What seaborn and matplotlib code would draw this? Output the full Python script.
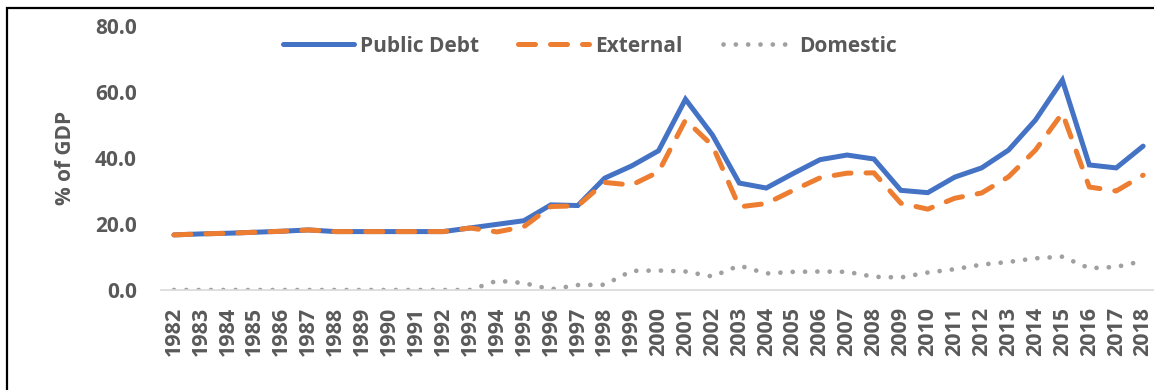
import matplotlib
matplotlib.use("Agg")
import matplotlib.pyplot as plt
from matplotlib.patches import Rectangle
import seaborn as sns

years = list(range(1982, 2019))
public_debt = [16.7, 17.0, 17.2, 17.5, 17.8, 18.2, 17.7, 17.7, 17.7, 17.7, 17.7, 18.8,
               19.9, 21.0, 25.8, 25.6, 33.9, 37.6, 42.2, 57.8, 47.0, 32.4, 30.9, 35.3,
               39.5, 40.9, 39.7, 30.2, 29.5, 34.2, 37.0, 42.4, 51.5, 63.6, 37.9, 37.0, 43.6]
external = [16.7, 17.0, 17.2, 17.5, 17.8, 18.2, 17.7, 17.7, 17.7, 17.7, 17.7, 18.8,
            17.6, 19.2, 25.3, 25.5, 32.6, 31.8, 35.8, 51.5, 43.8, 25.2, 26.2, 30.2,
            34.0, 35.4, 35.5, 26.3, 24.5, 27.8, 29.4, 34.3, 42.4, 53.6, 31.2, 30.0, 34.8]
domestic = [0.0, 0.0, 0.0, 0.0, 0.0, 0.0, 0.0, 0.0, 0.0, 0.0, 0.0, 0.0,
            2.8, 2.1, 0.2, 1.5, 1.6, 5.8, 5.9, 5.6, 4.1, 7.4, 5.0, 5.5,
            5.6, 5.5, 4.0, 3.8, 5.3, 6.3, 7.7, 8.5, 9.6, 10.1, 6.6, 7.0, 8.8]
y_ticks = [0, 20, 40, 60, 80]
series_names = ["Public Debt", "External", "Domestic"]

sns.set_theme(style="white")
plt.rcParams['font.family'] = ['Open Sans', 'DejaVu Sans']
text_color = "#595959"

fig = plt.figure(figsize=(11.54, 3.9), dpi=100)
ax = fig.add_axes([160.5 / 1154, 1 - 290 / 390, (1156.6 - 160.5) / 1154, 264 / 390])

sns.lineplot(x=years, y=public_debt, ax=ax, color="#4472C4", lw=3.6,
             solid_capstyle="round", solid_joinstyle="miter", label=series_names[0])
sns.lineplot(x=years, y=external, ax=ax, color="#ED7D31", lw=3.6,
             linestyle=(0, (3.4, 3.0)), dash_capstyle="round", label=series_names[1])
sns.lineplot(x=years, y=domestic, ax=ax, color="#A0A0A0", lw=3.4,
             linestyle=(0, (0.01, 2.6)), dash_capstyle="round", label=series_names[2])

ax.set_xlim(1981.5, 2018.5)
ax.set_ylim(0, 80)
ax.set_xticks(years)
ax.set_xticklabels([str(y) for y in years], rotation=90, fontsize=15.5,
                   fontweight="bold", color=text_color)
ax.set_yticks(y_ticks)
ax.set_yticklabels([f"{v:.1f}" for v in y_ticks], fontsize=15,
                   fontweight="bold", color=text_color)
ax.tick_params(axis="y", length=0, pad=17)
ax.tick_params(axis="x", length=0, pad=12)

for s in ["top", "right", "left"]:
    ax.spines[s].set_visible(False)
ax.spines["bottom"].set_color("#D9D9D9")
ax.spines["bottom"].set_linewidth(1.2)
ax.grid(False)
ax.set_xlabel("")
ax.set_ylabel("% of GDP", fontsize=15, fontweight="bold", color=text_color)
ax.yaxis.set_label_coords(-0.085, 0.5)

leg = ax.legend(loc="center", bbox_to_anchor=(590 / 1154, 1 - 46 / 390),
                bbox_transform=fig.transFigure, ncol=3, frameon=False,
                handlelength=3.4, handletextpad=0.3, columnspacing=1.9,
                prop={"weight": "bold", "size": 15})
for t in leg.get_texts():
    t.set_color(text_color)

fig.add_artist(Rectangle((7 / 1154, -0.2), 1.5, 1.2 - 7.5 / 390, fill=False,
                         lw=1.6, edgecolor="black", transform=fig.transFigure,
                         clip_on=False))

fig.savefig("out.png", dpi=100)
